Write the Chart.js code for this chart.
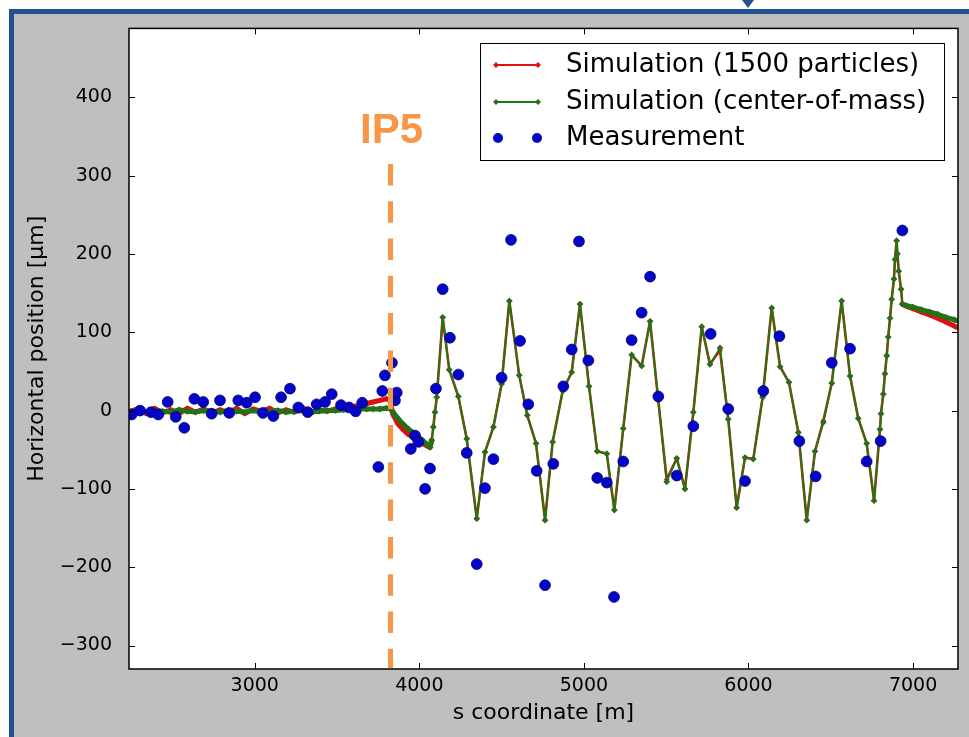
<!DOCTYPE html>
<html><head><meta charset="utf-8">
<script src="https://cdn.jsdelivr.net/npm/chart.js@4"></script>
<style>html,body{margin:0;padding:0;background:#fff;}#wrap{width:969px;height:737px;}</style>
</head><body><div id="wrap"><canvas id="c" width="969" height="737"></canvas></div>
<script>
// ---------- data ----------
const X_MIN = 2236, X_MAX = 7273;
const Y_MIN = -330, Y_MAX = 488;
const X_TICKS = [3000, 4000, 5000, 6000, 7000];
const Y_TICKS = [-300, -200, -100, 0, 100, 200, 300, 400];
const IP5_S = 3825;        // position of IP5 marker line
const IP5_TOP = 315;       // top of dashed IP5 line (µm)

const SIM_S = [
  2240,2290,2340,2390,2440,2490,2540,2590,2640,2690,2740,2790,2840,2890,2940,2990,3040,3090,3140,3190,3240,3290,3340,3390,3440,3490,3540,3590,3640,
  3680,3720,3760,3800,3820,3840,3870,3900,3930,3960,3990,4020,4045,4065,
  4075,4085,4095,4106,
  4142,4182,4237,4288,4349,4399,4450,4500,4547,4607,4656,4709,4764,4810,4871,4926,4976,5031,5081,5139,5185,5239,5290,5351,5402,5452,5503,5564,5614,5665,5716,5766,5827,5877,5928,5979,6029,6086,6141,6192,6246,6303,6354,6404,6455,6506,6566,6617,6667,6718,6763,6799,6805,6819,6829,6840,6849,6860,6870,6884,6890,6900,6905,6913,6927,6935,
  6960,7000,7050,7100,7150,7200,7250,7300
];
const SIM_COM = [
  -2,-1,-2,0,-1,-2,1,-1,-2,0,-1,-2,0,-1,-2,0,-2,-1,0,-2,-1,0,-2,-1,0,0,1,1,2,
  2,2,2,3,3,-2,-10,-17,-23,-28,-33,-38,-43,-47,
  -38,-21,-2,17,
  119,52,18,-36,-138,-53,-21,34,140,45,-6,-42,-140,-40,25,49,136,31,-52,-55,-127,-23,71,57,114,13,-91,-61,-100,-2,107,59,80,-11,-124,-60,-62,17,131,56,36,-28,-140,-52,-15,35,140,44,-10,-42,-115,-24,-4,21,47,70,94,118,142,168,193,217,200,178,155,136,
  134,132,129,126,123,119,116,113
];
const SIM_1500 = [
  -1,2,-4,3,-3,1,-4,3,-2,2,-3,1,-3,3,-4,2,-1,3,-3,1,-2,4,-3,1,-1,2,3,5,7,
  9,11,13,15,14,-5,-17,-24,-30,-34,-38,-42,-45,-47,
  -38,-21,-2,17,
  119,52,18,-36,-138,-53,-21,34,140,45,-6,-42,-140,-40,25,49,136,31,-52,-55,-127,-23,71,57,114,13,-88,-61,-100,-2,107,59,77,-11,-124,-60,-62,17,131,56,36,-28,-140,-52,-13,35,140,44,-10,-42,-115,-24,-4,21,47,70,94,118,142,168,193,217,200,178,155,136,
  133,130,126,122,118,113,108,103
];
const MEAS_S = [
  2252,2303,2370,2414,2471,2520,2572,2633,2687,2738,2789,2845,2900,2951,3002,3050,3113,3160,3214,3265,3322,3376,3427,3468,3524,3573,3613,3653,
  3751,3775,3791,3834,3852,3863,3948,3974,3994,4035,4065,4101,4142,4186,4237,4288,4349,4399,4450,4500,4557,4612,4662,4713,4764,4814,4875,4926,4970,5027,
  5081,5139,5183,5239,5290,5351,5402,5452,5564,5665,5770,5877,5979,6090,6188,6309,6408,6506,6617,6718,6803,6935
];
const MEAS_X = [
  -5,0,-2,-5,11,-8,-22,15,11,-4,13,-3,13,10,17,-3,-7,17,28,4,-2,8,11,21,7,4,-1,10,
  -72,25,45,61,13,23,-49,-32,-40,-100,-74,28,155,93,46,-54,-196,-99,-62,42,218,89,8,-77,-223,-68,31,78,216,64,
  -86,-92,-238,-65,90,125,171,18,-83,-20,98,2,-90,25,95,-39,-84,61,79,-65,-39,230
];
const LABELS = ['Simulation (1500 particles)', 'Simulation (center-of-mass)', 'Measurement'];

// ---------- helpers ----------
const pts = (xs, ys) => xs.map((x, i) => ({x, y: ys[i]}));
const thickZone = s => s < 4066 || s >= 6935;
const fmt = v => v < 0 ? '\u2212' + Math.abs(v) : String(v);

const RED = '#e01010', GREEN = '#108010', GREEN_M = '#2c6a1c', BLUE = '#0505c8', ORANGE = '#f79646';

const decor = {
  id: 'decor',
  beforeDraw(chart) {
    const ctx = chart.ctx, a = chart.chartArea;
    ctx.save();
    ctx.fillStyle = '#ffffff'; ctx.fillRect(0, 0, chart.width, chart.height);
    ctx.fillStyle = '#bfbfbf'; ctx.fillRect(14, 14, chart.width - 14, chart.height - 14);
    ctx.fillStyle = '#24508e';
    ctx.fillRect(9, 9, 5, chart.height - 9);
    ctx.fillRect(9, 9, chart.width - 9, 5);
    ctx.beginPath(); ctx.moveTo(742, 0); ctx.lineTo(754, 0); ctx.lineTo(748, 8); ctx.closePath(); ctx.fill();
    ctx.fillStyle = '#ffffff'; ctx.fillRect(a.left, a.top, a.right - a.left, a.bottom - a.top);
    ctx.restore();
  },
  afterDraw(chart) {
    const ctx = chart.ctx, a = chart.chartArea, xs = chart.scales.x, ys = chart.scales.y;
    ctx.save();
    // inward tick marks on all four sides
    ctx.strokeStyle = '#000'; ctx.lineWidth = 1;
    ctx.beginPath();
    X_TICKS.forEach(v => {
      const px = Math.round(xs.getPixelForValue(v)) + 0.5;
      ctx.moveTo(px, a.bottom); ctx.lineTo(px, a.bottom - 6);
      ctx.moveTo(px, a.top); ctx.lineTo(px, a.top + 6);
    });
    Y_TICKS.forEach(v => {
      const py = Math.round(ys.getPixelForValue(v)) + 0.5;
      ctx.moveTo(a.left, py); ctx.lineTo(a.left + 6, py);
      ctx.moveTo(a.right, py); ctx.lineTo(a.right - 6, py);
    });
    ctx.stroke();
    // frame
    ctx.lineWidth = 1.5;
    ctx.strokeRect(a.left, a.top, a.right - a.left, a.bottom - a.top);
    // IP5 dashed line + label
    const ipx = xs.getPixelForValue(IP5_S), ipy = ys.getPixelForValue(IP5_TOP);
    ctx.strokeStyle = ORANGE; ctx.lineWidth = 5; ctx.setLineDash([21.5, 15.8]);
    ctx.beginPath(); ctx.moveTo(ipx, ipy); ctx.lineTo(ipx, a.bottom - 1); ctx.stroke();
    ctx.setLineDash([]);
    ctx.fillStyle = ORANGE; ctx.font = 'bold 42px "Liberation Sans", Arial, sans-serif';
    ctx.textAlign = 'center'; ctx.textBaseline = 'alphabetic';
    ctx.fillText('IP5', ipx + 1, ipy - 21);
    // legend
    const bx = 480, by = 43, bw = 464, bh = 117;
    ctx.fillStyle = '#fff'; ctx.fillRect(bx, by, bw, bh);
    ctx.strokeStyle = '#000'; ctx.lineWidth = 1; ctx.strokeRect(bx + 0.5, by + 0.5, bw, bh);
    const rows = [65, 102, 138];
    const ds = chart.data.datasets;
    ds.forEach((d, i) => {
      const y = rows[i];
      if (i < 2) {
        ctx.strokeStyle = d.borderColor; ctx.lineWidth = 2;
        ctx.beginPath(); ctx.moveTo(496, y); ctx.lineTo(538, y); ctx.stroke();
        ctx.fillStyle = d.pointBackgroundColor;
        [496, 538].forEach(x => { ctx.beginPath(); ctx.moveTo(x, y - 3); ctx.lineTo(x + 3, y); ctx.lineTo(x, y + 3); ctx.lineTo(x - 3, y); ctx.closePath(); ctx.fill(); });
      } else {
        ctx.fillStyle = d.backgroundColor;
        [498, 537].forEach(x => { ctx.beginPath(); ctx.arc(x, y, 5, 0, Math.PI * 2); ctx.fill(); });
      }
      ctx.fillStyle = '#000'; ctx.font = '26px "DejaVu Sans", sans-serif';
      ctx.textAlign = 'left'; ctx.textBaseline = 'middle';
      ctx.fillText(d.label, 566, y);
    });
    ctx.restore();
  }
};

new Chart(document.getElementById('c'), {
  type: 'scatter',
  data: {
    datasets: [
      {
        label: LABELS[0], data: pts(SIM_S, SIM_1500), showLine: true, order: 3, clip: 0,
        borderColor: RED, backgroundColor: RED, pointBackgroundColor: RED, pointBorderColor: RED,
        borderWidth: 2.6, borderJoinStyle: 'round', borderCapStyle: 'round',
        pointStyle: 'rectRot', pointRadius: 2.8, pointBorderWidth: 0,
        segment: { borderWidth: c => thickZone(c.p0.parsed.x) ? 5 : 2.6 }
      },
      {
        label: LABELS[1], data: pts(SIM_S, SIM_COM), showLine: true, order: 2, clip: 0,
        borderColor: GREEN, backgroundColor: GREEN_M, pointBackgroundColor: GREEN_M, pointBorderColor: GREEN_M,
        borderWidth: 1.8, borderJoinStyle: 'round', borderCapStyle: 'round',
        pointStyle: 'rectRot', pointRadius: 3.4, pointBorderWidth: 0,
        segment: { borderWidth: c => thickZone(c.p0.parsed.x) ? 5 : 1.8 }
      },
      {
        label: LABELS[2], data: pts(MEAS_S, MEAS_X), showLine: false, order: 1, clip: 0,
        backgroundColor: BLUE, borderColor: '#00007a', pointRadius: 5.4, pointBorderWidth: 0.8
      }
    ]
  },
  options: {
    responsive: false, animation: false, devicePixelRatio: 1,
    layout: { padding: { left: 0, top: 27, right: 11, bottom: 0 } },
    plugins: { legend: { display: false }, tooltip: { enabled: false } },
    elements: { line: { tension: 0 } },
    scales: {
      x: {
        type: 'linear', min: X_MIN, max: X_MAX,
        afterBuildTicks: s => { s.ticks = X_TICKS.map(v => ({ value: v })); },
        afterFit: s => { s.height = 68; },
        grid: { display: false, drawTicks: false }, border: { display: false },
        ticks: { padding: 6, color: '#000', font: { family: 'DejaVu Sans', size: 19 }, callback: v => fmt(v), maxRotation: 0 },
        title: { display: true, text: 's coordinate [m]', color: '#000', font: { family: 'DejaVu Sans', size: 22 }, padding: { top: 0, bottom: 11 } }
      },
      y: {
        type: 'linear', min: Y_MIN, max: Y_MAX,
        afterBuildTicks: s => { s.ticks = Y_TICKS.map(v => ({ value: v })); },
        afterFit: s => { s.width = 129; },
        grid: { display: false, drawTicks: false }, border: { display: false },
        ticks: { padding: 17, color: '#000', font: { family: 'DejaVu Sans', size: 19 }, callback: v => fmt(v) },
        title: { display: true, text: 'Horizontal position [\u03bcm]', color: '#000', font: { family: 'DejaVu Sans', size: 22 }, padding: { top: 24, bottom: 0 } }
      }
    }
  },
  plugins: [decor]
});
</script></body></html>
